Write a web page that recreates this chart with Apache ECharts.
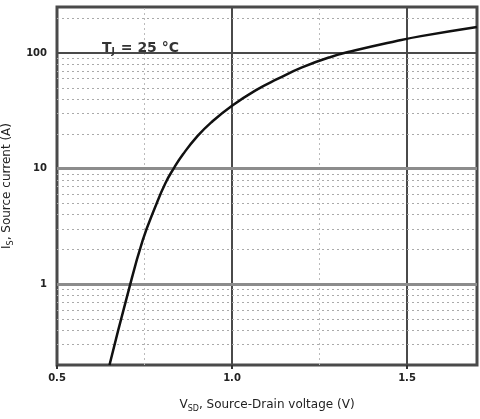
<!DOCTYPE html>
<html>
<head>
<meta charset="utf-8">
<script src="https://cdn.jsdelivr.net/npm/echarts@6/dist/echarts.min.js"></script>
<style>
  html, body { margin: 0; padding: 0; background: #fff; }
  #chart { width: 480px; height: 419px; }
</style>
</head>
<body>
<div id="chart"></div>
<script>
// Forward diode characteristic of the body diode, Tj = 25 °C
const vsd = [0.65, 0.70, 0.745, 0.78, 0.81, 0.835, 0.86, 0.90, 0.94, 1.0, 1.07, 1.13, 1.2, 1.28, 1.35, 1.47, 1.54, 1.70];
const isCurrent = [0.2, 0.78, 2.4, 4.6, 7.5, 10.2, 13.3, 18.9, 25, 35, 48, 59.6, 75, 92, 105, 127, 140, 168];

// Axis ranges and gridline values
const xRange = [0.5, 1.7];
const yRange = [0.2, 250];
const xMajorTicks = [0.5, 1.0, 1.5];
const xMinorGrid = [0.75, 1.25];
const yMajorLight = [1, 10];
const yMajorDark = [100];
const yMinorGrid = [0.3, 0.4, 0.5, 0.6, 0.7, 0.8, 0.9, 2, 3, 4, 5, 6, 7, 8, 9, 20, 30, 40, 50, 60, 70, 80, 90, 200];
const yLabels = [1, 10, 100];

const font = 'DejaVu Sans';

const chart = echarts.init(document.getElementById('chart'), null, { renderer: 'canvas' });

function hLines(values, style) {
  return values.map(v => ({ yAxis: v, lineStyle: style }));
}
function vLines(values, style) {
  return values.map(v => ({ xAxis: v, lineStyle: style }));
}

const minorStyle = { color: '#aaaaaa', width: 1.2, type: [2, 3] };

chart.setOption({
  animation: false,
  backgroundColor: '#fff',
  grid: {
    left: 57, right: 3, top: 7, bottom: 54,
    outerBoundsMode: 'none',
    containLabel: false,
    show: true, borderColor: '#4a4a4a', borderWidth: 3, backgroundColor: 'transparent'
  },
  title: {
    left: 97, top: 36,
    text: '{t|T}{s|J}{t| = 25 °C}',
    textStyle: {
      rich: {
        t: { fontFamily: font, fontSize: 14, fontWeight: 'bold', color: '#333' },
        s: { fontFamily: font, fontSize: 9, fontWeight: 'bold', color: '#333', verticalAlign: 'bottom', padding: [6, 1, 0, 0] }
      }
    }
  },
  xAxis: {
    type: 'value',
    min: xRange[0], max: xRange[1], interval: 0.5,
    name: '{t|V}{s|SD}{t|, Source-Drain voltage (V)}',
    nameLocation: 'middle', nameGap: 32,
    nameTextStyle: {
      rich: {
        t: { fontFamily: font, fontSize: 12, color: '#222' },
        s: { fontFamily: font, fontSize: 8, color: '#222', verticalAlign: 'bottom', padding: [8, 0, 0, 0] }
      }
    },
    axisLine: { show: false },
    axisTick: { show: true, length: 4, lineStyle: { color: '#333', width: 2 } },
    axisLabel: {
      showMaxLabel: false,
      fontFamily: font, fontSize: 10, fontWeight: 'bold', color: '#222', margin: 8,
      formatter: v => (xMajorTicks.some(t => Math.abs(t - v) < 1e-6) ? v.toFixed(1) : '')
    },
    splitLine: { show: true, lineStyle: { color: '#4a4a4a', width: 2 } }
  },
  yAxis: {
    type: 'log', logBase: 10,
    min: yRange[0], max: yRange[1],
    name: '{t|I}{s|S}{t|, Source current (A)}',
    nameLocation: 'middle', nameGap: 36, nameRotate: 90,
    nameTextStyle: {
      rich: {
        t: { fontFamily: font, fontSize: 12, color: '#222' },
        s: { fontFamily: font, fontSize: 8, color: '#222', verticalAlign: 'bottom', padding: [8, 0, 0, 0] }
      }
    },
    axisLine: { show: false },
    axisTick: { show: false },
    splitLine: { show: false },
    axisLabel: {
      showMinLabel: false, showMaxLabel: false,
      fontFamily: font, fontSize: 10, fontWeight: 'bold', color: '#222', margin: 10,
      formatter: v => {
        const r = Math.round(v * 1000) / 1000;
        return yLabels.includes(r) ? String(r) : '';
      }
    }
  },
  series: [
    {
      type: 'line',
      data: [],
      silent: true,
      markLine: {
        silent: true, symbol: 'none', label: { show: false }, animation: false,
        data: [
          ...hLines(yMinorGrid, minorStyle),
          ...vLines(xMinorGrid, { color: '#bbbbbb', width: 1, type: [2, 3] }),
          ...hLines(yMajorLight, { color: '#8c8c8c', width: 3, type: 'solid' }),
          ...hLines(yMajorDark, { color: '#4a4a4a', width: 2, type: 'solid' })
        ]
      }
    },
    {
      type: 'line',
      name: 'Is',
      data: vsd.map((v, i) => [v, isCurrent[i]]),
      smooth: 0.5,
      showSymbol: false,
      lineStyle: { color: '#111', width: 2.5 },
      z: 5
    }
  ]
});
</script>
</body>
</html>
